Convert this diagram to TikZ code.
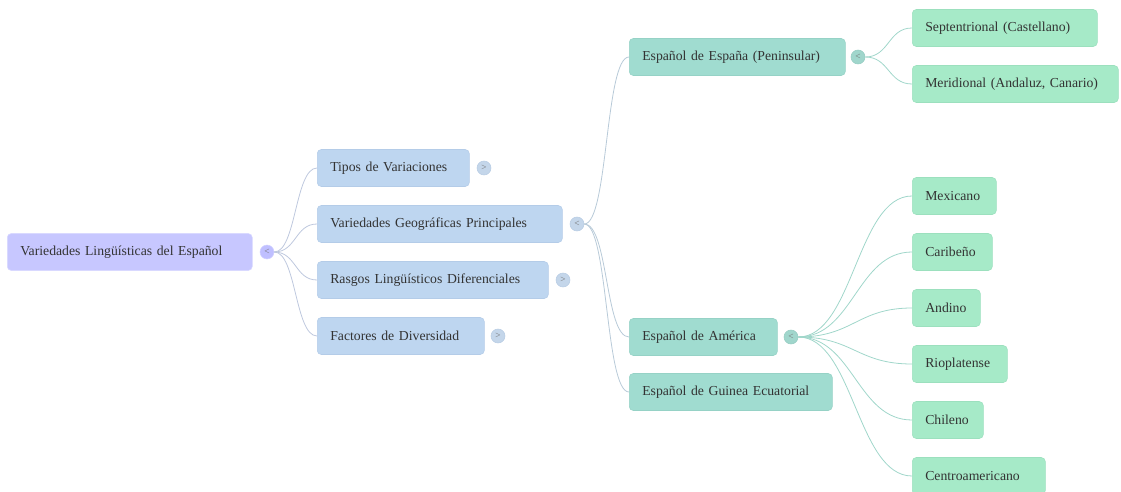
\documentclass[tikz,border=0pt]{standalone}
\usepackage{fontspec}
\setmainfont{Liberation Serif}
\begin{document}
\begin{tikzpicture}[x=0.75pt,y=-0.75pt,
  box/.style={rectangle, rounded corners=3pt, anchor=west, minimum height=27.75pt,
     inner xsep=9.75pt, inner ysep=0pt, align=left, font=\fontsize{10.3}{12}\selectfont, text=black!80},
  r0/.style={box, fill=blue!22!white, draw=blue!15!white, text width=#1},
  r1/.style={box, fill={rgb,255:red,190;green,214;blue,240}, draw={rgb,255:red,180;green,204;blue,232}, text width=#1},
  r2/.style={box, fill={rgb,255:red,160;green,220;blue,208}, draw={rgb,255:red,150;green,210;blue,198}, text width=#1},
  r3/.style={box, fill={rgb,255:red,166;green,234;blue,200}, draw={rgb,255:red,156;green,224;blue,190}, text width=#1},
  tog/.style={circle, minimum size=10.5pt, inner sep=0pt, font=\fontsize{7}{7}\selectfont, text=black!55},
  c0/.style={tog, fill=blue!25!white, draw=blue!18!white},
  c1/.style={tog, fill={rgb,255:red,196;green,214;blue,234}, draw={rgb,255:red,184;green,204;blue,228}},
  c2/.style={tog, fill={rgb,255:red,160;green,214;blue,204}, draw={rgb,255:red,150;green,204;blue,194}},
  l0/.style={draw={rgb,255:red,190;green,200;blue,222}, line width=0.6pt},
  l1/.style={draw={rgb,255:red,184;green,202;blue,216}, line width=0.6pt},
  l2/.style={draw={rgb,255:red,160;green,214;blue,202}, line width=0.6pt}
]
\useasboundingbox (0,0) rectangle (1121,492);

% root
\node[r0=164.25pt] (root) at (7,252) {Variedades Lingüísticas del Español};
\node[c0] (croot) at (267,252) {<};

% level 1
\node[r1=94.5pt] (tipos) at (317,168) {Tipos de Variaciones};
\node[c1] (ctipos) at (484,168) {>};
\node[r1=164.25pt] (geo) at (317,224) {Variedades Geográficas Principales};
\node[c1] (cgeo) at (577,224) {<};
\node[r1=153.75pt] (rasgos) at (317,280) {Rasgos Lingüísticos Diferenciales};
\node[c1] (crasgos) at (563,280) {>};
\node[r1=105.75pt] (fact) at (317,336) {Factores de Diversidad};
\node[c1] (cfact) at (498,336) {>};

% level 2
\node[r2=142.5pt] (esp) at (629,57) {Español de España (Peninsular)};
\node[c2] (cesp) at (858,57) {<};
\node[r2=91.5pt] (ame) at (629,337) {Español de América};
\node[c2] (came) at (791,337) {<};
\node[r2=132.75pt] (gui) at (629,392) {Español de Guinea Ecuatorial};

% level 3
\node[r3=119.25pt] (sep) at (912,28) {Septentrional (Castellano)};
\node[r3=135pt] (mer) at (912,84) {Meridional (Andaluz, Canario)};
\node[r3=43.5pt] (mex) at (912,196) {Mexicano};
\node[r3=40.5pt] (car) at (912,252) {Caribeño};
\node[r3=31.5pt] (and) at (912,308) {Andino};
\node[r3=51.75pt] (rio) at (912,364) {Rioplatense};
\node[r3=33.75pt] (chi) at (912,420) {Chileno};
\node[r3=80.25pt] (cen) at (912,476) {Centroamericano};

% connectors
\foreach \t in {tipos,geo,rasgos,fact}
  \draw[l0] (croot.east) .. controls +(22,0) and +(-22,0) .. (\t.west);
\foreach \t in {esp,ame,gui}
  \draw[l1] (cgeo.east) .. controls +(24,0) and +(-24,0) .. (\t.west);
\foreach \t in {sep,mer}
  \draw[l2] (cesp.east) .. controls +(24,0) and +(-24,0) .. (\t.west);
\foreach \t in {mex,car,and,rio,chi,cen}
  \draw[l2] (came.east) .. controls +(55,0) and +(-55,0) .. (\t.west);
\end{tikzpicture}
\end{document}
